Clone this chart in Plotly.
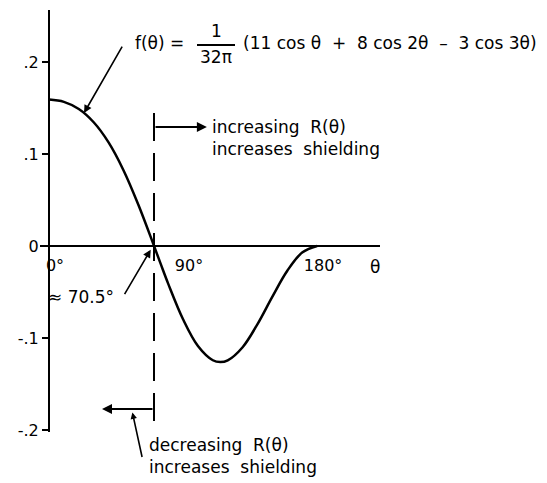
import plotly.graph_objects as go

# data (theta in degrees, f(theta))
theta = [0, 10, 20, 30, 40, 50, 60, 70, 75, 80, 90, 100, 110, 115, 120, 130, 140, 150, 160, 170, 180]
f_vals = [0.1592, 0.1567, 0.1489, 0.1345, 0.1126, 0.0824, 0.0448, 0.0023, -0.0195, -0.0409,
          -0.0796, -0.1087, -0.1242, -0.1262, -0.1243, -0.1100, -0.0849, -0.0550, -0.0269, -0.0071, 0.0]

x_tick_vals = [0, 90, 180]
x_tick_text = ["0°", "90°", "180°"]
y_tick_vals = [-0.2, -0.1, 0.0, 0.1, 0.2]
y_tick_text = ["-.2", "-.1", "0", ".1", ".2"]
crossing = 70.5

OFF = 8  # page body margin
W, H = 547 - OFF, 483 - OFF
# plot area in reference-picture pixels
L, R, T, B = 40, 380, 10, 432


def px(xp):
    return (xp - L) / (R - L)


def py(yp):
    return (B - yp) / (B - T)


FONT = "DejaVu Sans"
fig = go.Figure()
fig.add_trace(go.Scatter(x=theta, y=f_vals, mode="lines",
                         line=dict(color="black", width=2.5, shape="spline"),
                         hoverinfo="skip", showlegend=False))

# dashed vertical line at crossing
fig.add_shape(type="line", x0=crossing, x1=crossing, y0=0.1446, y1=-0.1924,
              xref="x", yref="y", line=dict(color="black", width=2, dash="28px,12px"))

annots = []
# top arrow (increasing R)
annots.append(dict(x=106, y=0.1293, ax=crossing, ay=0.1293, xref="x", yref="y",
                   axref="x", ayref="y", text="", showarrow=True, arrowhead=2,
                   arrowsize=1, arrowwidth=2, arrowcolor="black"))
# bottom arrow (decreasing R)
annots.append(dict(x=35.6, y=-0.1772, ax=crossing, ay=-0.1772, xref="x", yref="y",
                   axref="x", ayref="y", text="", showarrow=True, arrowhead=2,
                   arrowsize=1, arrowwidth=2, arrowcolor="black"))
# formula pointer
annots.append(dict(x=23.5, y=0.1445, ax=39, ay=-68, xref="x", yref="y",
                   text="", showarrow=True, arrowhead=2, arrowsize=1,
                   arrowwidth=1.6, arrowcolor="black"))
# 70.5 pointer
annots.append(dict(x=68.3, y=-0.004, ax=-27, ay=46, xref="x", yref="y",
                   text="", showarrow=True, arrowhead=2, arrowsize=1,
                   arrowwidth=1.6, arrowcolor="black"))
# bottom text pointer
annots.append(dict(x=56.0, y=-0.1810, ax=10, ay=46, xref="x", yref="y",
                   text="", showarrow=True, arrowhead=2, arrowsize=0.8,
                   arrowwidth=1.6, arrowcolor="black"))

tf = dict(family=FONT, size=17, color="black")
annots += [
    dict(x=px(133), y=py(43), xref="paper", yref="paper", text="f(θ) =",
         xanchor="left", yanchor="middle", showarrow=False, font=tf),
    dict(x=px(216), y=py(31), xref="paper", yref="paper", text="1",
         xanchor="center", yanchor="middle", showarrow=False, font=tf),
    dict(x=px(216), y=py(57), xref="paper", yref="paper", text="32π",
         xanchor="center", yanchor="middle", showarrow=False, font=tf),
    dict(x=px(241), y=py(43), xref="paper", yref="paper",
         text="(11 cos θ  +  8 cos 2θ  –  3 cos 3θ)",
         xanchor="left", yanchor="middle", showarrow=False, font=tf),
    dict(x=px(210), y=py(138), xref="paper", yref="paper",
         text="increasing  R(θ)<br>increases  shielding", align="left",
         xanchor="left", yanchor="middle", showarrow=False, font=tf),
    dict(x=px(147), y=py(456), xref="paper", yref="paper",
         text="decreasing  R(θ)<br>increases  shielding", align="left",
         xanchor="left", yanchor="middle", showarrow=False, font=tf),
    dict(x=px(116), y=py(297), xref="paper", yref="paper", text="≈ 70.5°",
         xanchor="right", yanchor="middle", showarrow=False, font=tf),
    dict(x=px(375), y=py(267), xref="paper", yref="paper", text="θ",
         xanchor="center", yanchor="middle", showarrow=False, font=tf),
]

# fraction bar
fig.add_shape(type="line", xref="paper", yref="paper", x0=px(197), x1=px(235),
              y0=py(45), y1=py(45), line=dict(color="black", width=2))

deg_per_px = 70.5 / (154 - 49)
x0 = -(49 - L) * deg_per_px
x1 = (R - 49) * deg_per_px
fy_per_px = 1 / 920.0
y_top = (246 - T) * fy_per_px
y_bot = -(B - 246) * fy_per_px

fig.update_layout(
    width=W, height=H, autosize=False,
    margin=dict(l=L - OFF, r=547 - R, t=T - OFF, b=483 - B, pad=0),
    plot_bgcolor="white", paper_bgcolor="white",
    font=dict(family=FONT, size=16, color="black"),
    annotations=annots,
    xaxis=dict(range=[x0, x1], showgrid=False, zeroline=False, showline=False,
               tickvals=x_tick_vals, ticktext=x_tick_text, ticks="",
               anchor="free", position=(B - 246) / (B - T),
               tickfont=dict(family=FONT, size=16, color="black"),
               ticklabelstandoff=8, ticklabelshift=6,
               automargin=False, fixedrange=True),
    yaxis=dict(range=[y_bot, y_top], showgrid=False, zeroline=True,
               zerolinecolor="black", zerolinewidth=2,
               showline=True, linecolor="black", linewidth=2,
               tickvals=y_tick_vals, ticktext=y_tick_text, ticks="outside",
               ticklen=6, tickwidth=2, tickcolor="black",
               anchor="free", position=(49 - L) / (R - L),
               tickfont=dict(family=FONT, size=16, color="black"),
               automargin=False, fixedrange=True),
)

fig.write_html("out.html")
